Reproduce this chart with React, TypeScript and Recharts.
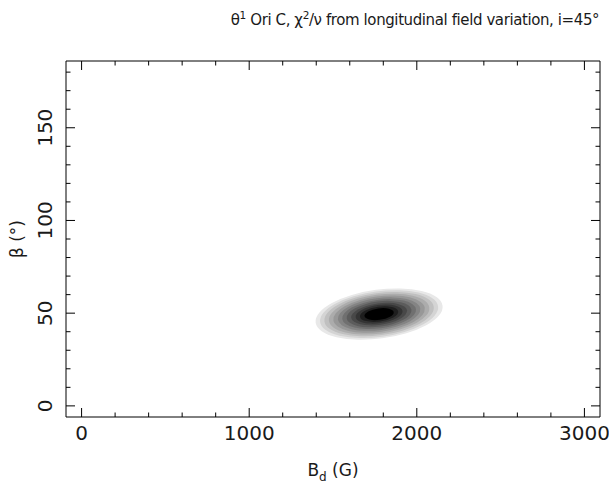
import React from 'react';
import { ScatterChart, Scatter, XAxis, YAxis, ReferenceArea, Label } from 'recharts';

// ---- axis ticks ----
const xMajorTicks = [0, 1000, 2000, 3000];
const xMinorTicks = [200, 400, 600, 800, 1200, 1400, 1600, 1800, 2200, 2400, 2600, 2800];
const yMajorTicks = [0, 50, 100, 150];
const yMinorTicks = [10, 20, 30, 40, 60, 70, 80, 90, 110, 120, 130, 140, 160, 170, 180];
const xDomain = [-93, 3093];
const yDomain = [-6, 186];

// ---- chi^2/nu map: best fit and nested contour levels (outer -> inner) ----
const bestFit = [{ Bd: 1775, beta: 49.5 }];
const levelHalfBd = [382, 355, 329, 302, 275, 248, 222, 195, 168, 141, 115, 88];
const levelHalfBeta = [13.2, 12.3, 11.4, 10.5, 9.6, 8.6, 7.7, 6.8, 5.8, 4.9, 4.0, 3.1];
const levelGray = [232, 212, 192, 172, 152, 132, 112, 92, 72, 52, 30, 0];

const TILT = -7.6;
const FONT = "'DejaVu Sans', sans-serif";
const TXT = '#1a1a1a';

const allXTicks = [...xMajorTicks, ...xMinorTicks].sort((a, b) => a - b);
const allYTicks = [...yMajorTicks, ...yMinorTicks].sort((a, b) => a - b);

const BottomTick = (p: any) => {
  const { x, y, payload } = p;
  const major = xMajorTicks.includes(payload.value);
  return (
    <g>
      <line x1={x} y1={y} x2={x} y2={y - (major ? 9 : 4.5)} stroke="#000" />
      {major && (
        <text x={x} y={y + 16} textAnchor="middle" dominantBaseline="central" fontFamily={FONT} fontSize={20} fill={TXT}>
          {payload.value}
        </text>
      )}
    </g>
  );
};
const TopTick = (p: any) => {
  const { x, y, payload } = p;
  const major = xMajorTicks.includes(payload.value);
  return <line x1={x} y1={y} x2={x} y2={y + (major ? 9 : 4.5)} stroke="#000" />;
};
const LeftTick = (p: any) => {
  const { x, y, payload } = p;
  const major = yMajorTicks.includes(payload.value);
  const lx = x - 21;
  return (
    <g>
      <line x1={x} y1={y} x2={x + (major ? 9 : 4.5)} y2={y} stroke="#000" />
      {major && (
        <text x={lx} y={y} transform={`rotate(-90 ${lx} ${y})`} textAnchor="middle" dominantBaseline="central" fontFamily={FONT} fontSize={20} fill={TXT}>
          {payload.value}
        </text>
      )}
    </g>
  );
};
const RightTick = (p: any) => {
  const { x, y, payload } = p;
  const major = yMajorTicks.includes(payload.value);
  return <line x1={x} y1={y} x2={x - (major ? 9 : 4.5)} y2={y} stroke="#000" />;
};

const XTitle = (p: any) => {
  const { x, y, width } = p.viewBox;
  return (
    <text x={x + width / 2} y={y + 59} textAnchor="middle" fontFamily={FONT} fontSize={17} fill={TXT}>
      B<tspan dy={5} fontSize={12}>d</tspan>
      <tspan dy={-5}> (G)</tspan>
    </text>
  );
};
const YTitle = (p: any) => {
  const { x, y, height } = p.viewBox;
  const cx = x + 17;
  const cy = y + height / 2;
  return (
    <text x={cx} y={cy} transform={`rotate(-90 ${cx} ${cy})`} textAnchor="middle" dominantBaseline="central" fontFamily={FONT} fontSize={17} fill={TXT}>
      β (°)
    </text>
  );
};

const makeEllipse = (g: number) => (p: any) => {
  const { x, y, width, height } = p;
  const cx = x + width / 2;
  const cy = y + height / 2;
  return (
    <ellipse
      cx={cx}
      cy={cy}
      rx={Math.abs(width) / 2}
      ry={Math.abs(height) / 2}
      fill={`rgb(${g},${g},${g})`}
      transform={`rotate(${TILT} ${cx} ${cy})`}
    />
  );
};

const supStyle: React.CSSProperties = { fontSize: '70%', verticalAlign: 'super', lineHeight: 0 };

export default function App() {
  const c = bestFit[0];
  return (
    <div style={{ position: 'absolute', left: 0, top: 0, width: 609, height: 490, background: '#fff' }}>
      <div
        style={{
          position: 'absolute',
          left: 165,
          top: 11,
          width: 500,
          textAlign: 'center',
          fontFamily: FONT,
          fontSize: 15,
          letterSpacing: '-0.4px',
          lineHeight: '18px',
          color: TXT,
          whiteSpace: 'nowrap',
        }}
      >
        θ<sup style={supStyle}>1</sup> Ori C, χ<sup style={supStyle}>2</sup>/ν from longitudinal field variation, i=45°
      </div>
      <ScatterChart width={609} height={490} margin={{ top: 60, right: 8, bottom: 0, left: 0 }}>
        <XAxis
          xAxisId="b"
          type="number"
          dataKey="Bd"
          orientation="bottom"
          domain={xDomain}
          allowDataOverflow
          ticks={allXTicks}
          interval={0}
          height={73}
          tickSize={0}
          tickMargin={0}
          tickLine={false}
          axisLine={{ stroke: '#000' }}
          tick={BottomTick}
        >
          <Label content={XTitle} />
        </XAxis>
        <XAxis
          xAxisId="t"
          type="number"
          dataKey="Bd"
          orientation="top"
          domain={xDomain}
          allowDataOverflow
          ticks={allXTicks}
          interval={0}
          height={1}
          tickSize={0}
          tickMargin={0}
          tickLine={false}
          axisLine={{ stroke: '#000' }}
          tick={TopTick}
        />
        <YAxis
          yAxisId="l"
          type="number"
          dataKey="beta"
          orientation="left"
          domain={yDomain}
          allowDataOverflow
          ticks={allYTicks}
          interval={0}
          width={66}
          tickSize={0}
          tickMargin={0}
          tickLine={false}
          axisLine={{ stroke: '#000' }}
          tick={LeftTick}
        >
          <Label content={YTitle} />
        </YAxis>
        <YAxis
          yAxisId="r"
          type="number"
          dataKey="beta"
          orientation="right"
          domain={yDomain}
          allowDataOverflow
          ticks={allYTicks}
          interval={0}
          width={1}
          tickSize={0}
          tickMargin={0}
          tickLine={false}
          axisLine={{ stroke: '#000' }}
          tick={RightTick}
        />
        {levelHalfBd.map((hb, i) => (
          <ReferenceArea
            key={i}
            xAxisId="b"
            yAxisId="l"
            x1={c.Bd - hb}
            x2={c.Bd + hb}
            y1={c.beta - levelHalfBeta[i]}
            y2={c.beta + levelHalfBeta[i]}
            shape={makeEllipse(levelGray[i])}
            ifOverflow="visible"
          />
        ))}
        <Scatter
          xAxisId="b"
          yAxisId="l"
          data={bestFit}
          fill="#000"
          isAnimationActive={false}
          shape={(p: any) => <circle cx={p.cx} cy={p.cy} r={1.5} fill="#000" />}
        />
        <Scatter
          xAxisId="t"
          yAxisId="r"
          data={bestFit}
          fill="#000"
          isAnimationActive={false}
          shape={(p: any) => <circle cx={p.cx} cy={p.cy} r={1.5} fill="#000" />}
        />
      </ScatterChart>
    </div>
  );
}
